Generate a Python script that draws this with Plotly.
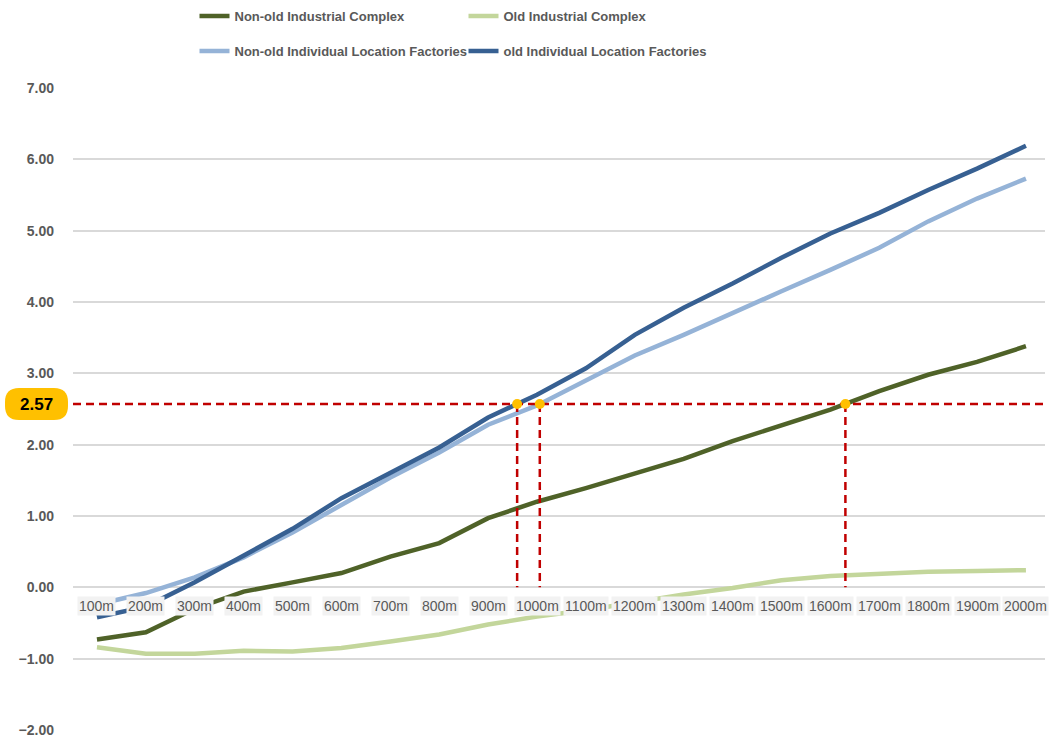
import plotly.graph_objects as go

# Distance bands on the x axis
distances = ["100m", "200m", "300m", "400m", "500m", "600m", "700m", "800m", "900m", "1000m",
             "1100m", "1200m", "1300m", "1400m", "1500m", "1600m", "1700m", "1800m", "1900m", "2000m"]

# Series values per distance band
non_old_industrial = [-0.73, -0.63, -0.30, -0.06, 0.07, 0.20, 0.43, 0.62, 0.97, 1.20,
                      1.39, 1.60, 1.80, 2.05, 2.27, 2.49, 2.75, 2.98, 3.16, 3.38]
old_industrial = [-0.84, -0.93, -0.93, -0.89, -0.90, -0.85, -0.76, -0.66, -0.52, -0.41,
                  -0.32, -0.21, -0.10, -0.01, 0.10, 0.16, 0.19, 0.22, 0.23, 0.24]
non_old_individual = [-0.24, -0.08, 0.14, 0.42, 0.77, 1.16, 1.54, 1.89, 2.28, 2.55,
                      2.90, 3.25, 3.54, 3.85, 4.15, 4.45, 4.76, 5.13, 5.45, 5.73]
old_individual = [-0.42, -0.27, 0.07, 0.45, 0.82, 1.25, 1.60, 1.96, 2.38, 2.70,
                  3.07, 3.54, 3.92, 4.26, 4.62, 4.96, 5.25, 5.57, 5.87, 6.19]

# Reference level highlighted on the chart
threshold = 2.57
threshold_label = "2.57"

X_RANGE = [-0.49, 19.39]
Y_RANGE = [-2, 7]

SANS = "Liberation Sans, Arial, sans-serif"
GREY_TEXT = "#595959"

# Page geometry: the legend rows live inside the paper, above the y-axis domain
WIDTH, HEIGHT = 1052, 740
MARGIN_B = 10
PLOT_TOP_PX = 88
PAPER_H = HEIGHT - MARGIN_B


def paper_y(px_from_top):
    return (PAPER_H - px_from_top) / PAPER_H


series = [
    ("Non-old Industrial Complex", non_old_industrial, "#4F6228", "legend", True),
    ("Old Industrial Complex", old_industrial, "#C3D69B", "legend", False),
    ("Non-old Individual Location Factories", non_old_individual, "#95B3D7", "legend2", True),
    ("old Individual Location Factories", old_individual, "#376092", "legend2", True),
]

xs = list(range(len(distances)))

fig = go.Figure()
for name, vals, color, leg, _ in series:
    fig.add_trace(go.Scatter(
        x=xs, y=vals, name=name, mode="lines",
        line=dict(color=color, width=4.5),
        legend=leg, hoverinfo="skip",
    ))


def crossing(vals, level):
    """Fractional x position where a series first rises through a level."""
    for i in range(len(vals) - 1):
        a, b = vals[i], vals[i + 1]
        if a < level <= b:
            return i + (level - a) / (b - a)
    return None


cross_x = []
for _, vals, _, _, marked in series:
    c = crossing(vals, threshold)
    if marked and c is not None:
        cross_x.append(c)

RED = "#C00000"
DASH = "8px,5px"

# Horizontal threshold line
fig.add_trace(go.Scatter(
    x=X_RANGE, y=[threshold, threshold], mode="lines",
    line=dict(color=RED, width=2.5, dash=DASH),
    showlegend=False, hoverinfo="skip",
))

# Vertical drop lines from the crossing points to zero
for c in cross_x:
    fig.add_trace(go.Scatter(
        x=[c, c], y=[threshold, 0], mode="lines",
        line=dict(color=RED, width=2.5, dash=DASH),
        showlegend=False, hoverinfo="skip",
    ))

# Crossing markers
fig.add_trace(go.Scatter(
    x=cross_x, y=[threshold] * len(cross_x), mode="markers",
    marker=dict(color="#FFC000", size=10),
    showlegend=False, hoverinfo="skip",
))

# Category labels sitting on the zero line with a light box behind them
for i, lab in enumerate(distances):
    fig.add_annotation(
        x=i, y=0, xref="x", yref="y", text=lab, showarrow=False,
        yanchor="top", xanchor="center", yshift=-9,
        font=dict(family=SANS, size=14, color=GREY_TEXT),
        bgcolor="#F2F2F2", borderpad=1,
    )

# Rounded badge for the threshold value
fig.add_shape(
    type="path", xref="paper", yref="y",
    xsizemode="pixel", ysizemode="pixel", xanchor=0, yanchor=threshold,
    path="M -54,-16 L -19,-16 Q -5,-16 -5,-2 L -5,2 Q -5,16 -19,16 L -54,16 "
         "Q -68,16 -68,2 L -68,-2 Q -68,-16 -54,-16 Z",
    fillcolor="#FFC000", line=dict(width=0), layer="above",
)
fig.add_annotation(
    x=0, y=threshold, xref="paper", yref="y", text=threshold_label,
    showarrow=False, xanchor="center", yanchor="middle", xshift=-36.5,
    font=dict(family=SANS, size=17, color="#000000", weight="bold"),
)

legend_font = dict(family=SANS, size=13, color=GREY_TEXT, weight="bold")
legend_common = dict(
    orientation="h", xanchor="left",
    entrywidth=224, entrywidthmode="pixels",
    font=legend_font, bgcolor="rgba(0,0,0,0)", itemwidth=30,
    traceorder="normal",
)

fig.update_layout(
    width=WIDTH, height=HEIGHT,
    margin=dict(l=73, r=7, t=0, b=MARGIN_B),
    paper_bgcolor="white", plot_bgcolor="white",
    legend=dict(x=0.125, y=paper_y(1), yanchor="top", **legend_common),
    legend2=dict(x=0.125, y=paper_y(51), yanchor="middle", **legend_common),
    xaxis=dict(range=X_RANGE, showgrid=False, zeroline=False, automargin=False,
               showticklabels=False, showline=False, ticks=""),
    yaxis=dict(range=Y_RANGE, domain=[0, paper_y(PLOT_TOP_PX)],
               dtick=1, tick0=0, tickformat=".2f", automargin=False,
               showgrid=True, gridcolor="#D9D9D9", gridwidth=2,
               zeroline=True, zerolinecolor="#D9D9D9", zerolinewidth=2,
               showline=False, ticks="", ticklabelstandoff=18,
               tickfont=dict(family=SANS, size=14, color=GREY_TEXT, weight="bold")),
    showlegend=True,
)

fig.write_html("out.html")
